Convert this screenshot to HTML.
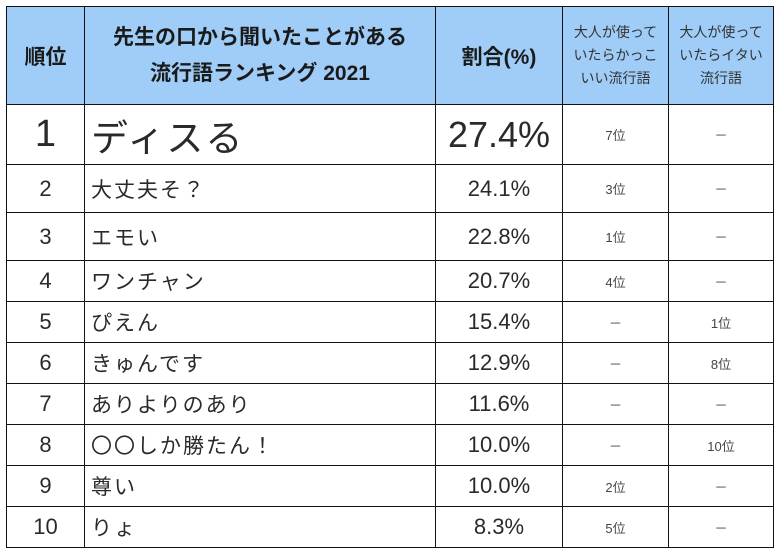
<!DOCTYPE html>
<html><head><meta charset="utf-8"><style>
body{margin:0;width:780px;height:554px;background:#fff;overflow:hidden;font-family:"Liberation Sans","Noto Sans CJK JP",sans-serif;color:#2a2a2a}
#t{position:absolute;left:6px;top:6px;border-collapse:collapse;table-layout:fixed}
#t td{border:1.5px solid #111;padding:0;text-align:center;vertical-align:middle;white-space:nowrap;overflow:hidden}
#t tr.h td{background:#9fcdf7;font-weight:bold;font-size:21px;color:#1a1a1a}
#t tr.h td.s{font-weight:normal;font-size:14px;line-height:23px;color:#333}
td.w{text-align:left!important;padding-left:6px!important;letter-spacing:2px;font-family:"Noto Sans CJK JP",sans-serif}
td.r{font-size:13px;color:#444}
</style></head><body>
<table id="t">
<colgroup><col style="width:78px"><col style="width:351px"><col style="width:127px"><col style="width:106px"><col style="width:105px"></colgroup>
<tr class="h" style="height:98px">
<td>順位</td>
<td style="line-height:36px">先生の口から聞いたことがある<br>流行語ランキング 2021</td>
<td>割合(%)</td>
<td class="s">大人が使って<br>いたらかっこ<br>いい流行語</td>
<td class="s">大人が使って<br>いたらイタい<br>流行語</td>
</tr>
<tbody id="body"></tbody>
</table>
<script>
const ranks=["1","2","3","4","5","6","7","8","9","10"];
const words=["ディスる","大丈夫そ？","エモい","ワンチャン","ぴえん","きゅんです","ありよりのあり","〇〇しか勝たん！","尊い","りょ"];
const percents=[27.4,24.1,22.8,20.7,15.4,12.9,11.6,10.0,10.0,8.3];
const coolRanks=["7位","3位","1位","4位","－","－","－","－","2位","5位"];
const cringeRanks=["－","－","－","－","1位","8位","－","10位","－","－"];
const heights=[60,48,48,41,41,41,41,41,41,41];
const body=document.getElementById('body');
ranks.forEach((r,i)=>{
  const tr=document.createElement('tr');
  
  
  tr.style.height=heights[i]+'px';
  const big=i===0;
  const c1=document.createElement('td');
  
  
  c1.textContent=r;c1.style.fontSize=big?'38px':'22px';
  const c2=document.createElement('td');
  
  
  c2.className='w';c2.textContent=words[i];c2.style.fontSize=big?'37px':'21px';
  const c3=document.createElement('td');
  
  
  c3.textContent=percents[i].toFixed(1)+'%';c3.style.fontSize=big?'36px':'22px';
  const c4=document.createElement('td');
  
  
  c4.className='r';c4.textContent=coolRanks[i];
  const c5=document.createElement('td');
  
  
  c5.className='r';c5.textContent=cringeRanks[i];
  [c1,c2,c3,c4,c5].forEach(c=>tr.appendChild(c));
  body.appendChild(tr);
});
</script>
</body></html>
